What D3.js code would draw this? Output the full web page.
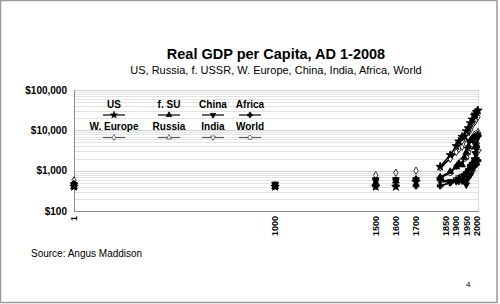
<!DOCTYPE html>
<html>
<head>
<meta charset="utf-8">
<script src="https://cdn.jsdelivr.net/npm/d3@7"></script>
<style>
  html, body { margin: 0; padding: 0; background: #fff; }
  svg { display: block; font-family: "Liberation Sans", Arial, sans-serif; }
</style>
</head>
<body>
<script>
// Maddison GDP per capita, 1990 GK$ (read off the chart / estimated)
const years = [1, 1000, 1500, 1600, 1700, 1820, 1870, 1900, 1913, 1929, 1940, 1950, 1960, 1970, 1980, 1990, 1995, 2000, 2008];
const us      = [400, 400, 400, 400, 527, 1257, 2445, 4091, 5301, 6899, 7010, 9561, 11328, 15030, 18577, 23201, 24900, 28467, 31178];
const fsu     = [400, 400, 499, 552, 610, 688, 943, 1237, 1488, 1386, 2144, 2841, 3945, 5575, 6427, 6894, 3900, 4454, 7904];
const china   = [450, 466, 600, 600, 600, 600, 530, 545, 552, 562, 562, 448, 662, 778, 1061, 1871, 2653, 3421, 6725];
const africa  = [472, 425, 414, 422, 421, 420, 500, 580, 637, 700, 800, 889, 1063, 1357, 1536, 1425, 1380, 1447, 1780];
const weurope = [576, 427, 771, 889, 997, 1202, 1960, 2885, 3457, 3900, 4500, 4578, 6896, 10195, 13154, 15966, 17000, 19176, 21672];
const russia  = [null, null, null, null, null, null, null, null, null, null, null, null, null, null, null, 7779, 5100, 5277, 9111];
const india   = [450, 450, 550, 550, 550, 533, 533, 599, 673, 728, 686, 619, 753, 868, 938, 1309, 1568, 1892, 2975];
const world   = [467, 453, 566, 596, 615, 666, 870, 1262, 1524, 1806, 1958, 2111, 2773, 3729, 4520, 5150, 5500, 6041, 7614];

const seriesNames = ['US', 'f. SU', 'China', 'Africa', 'W. Europe', 'Russia', 'India', 'World'];
const seriesValues = [us, fsu, china, africa, weurope, russia, india, world];
const yTicks = [100, 1000, 10000, 100000];
const xTicks = [1, 1000, 1500, 1600, 1700, 1850, 1900, 1950, 2000];

const title = 'Real GDP per Capita, AD 1-2008';
const subtitle = 'US, Russia, f. USSR, W. Europe, China, India, Africa, World';

// marker look for each series
const markers = [
    { type: d3.symbolStar, fill: '#000', size: 22 },
    { type: d3.symbolTriangle, fill: '#000', size: 20 },
    { type: d3.symbolTriangle, fill: '#000', size: 20, rot: 180 },
    { type: d3.symbolCross, fill: '#000', size: 20 },
    { type: d3.symbolDiamond, fill: '#fff', size: 16 },
    { type: d3.symbolTriangle, fill: '#fff', size: 18 },
    { type: d3.symbolTriangle, fill: '#fff', size: 18, rot: 180 },
    { type: d3.symbolCircle, fill: '#fff', size: 20 },
];

const W = 500, H = 304;
const plot = { left: 74, right: 478, top: 90, bottom: 211 };

const svg = d3.select('body').append('svg').attr('width', W).attr('height', H);

svg.append('rect')
    .attr('x', 0.5).attr('y', 0.5)
    .attr('width', 496.5).attr('height', 302)
    .attr('fill', '#fff').attr('stroke', '#9a9a9a').attr('stroke-width', 1.5);

const x = d3.scaleLinear().domain([1, 2008]).range([plot.left, plot.right]);
const y = d3.scaleLog().domain([100, 100000]).range([plot.bottom, plot.top]);

// gridlines (log minor + major)
const gridVals = [];
yTicks.slice(0, -1).forEach((d) => {
    for (let m = 1; m < 10; m++) gridVals.push(d * m);
});
gridVals.push(100000);
svg.append('g')
    .selectAll('line')
    .data(gridVals.filter((d) => d > 100))
    .join('line')
    .attr('x1', plot.left).attr('x2', plot.right)
    .attr('y1', (d) => Math.round(y(d)) + 0.5)
    .attr('y2', (d) => Math.round(y(d)) + 0.5)
    .attr('stroke', (d) => (yTicks.includes(d) ? '#cfcfcf' : '#e2e2e2'))
    .attr('stroke-width', 1);

// plot area right edge
svg.append('line')
    .attr('x1', plot.right + 0.5).attr('x2', plot.right + 0.5)
    .attr('y1', plot.top).attr('y2', plot.bottom)
    .attr('stroke', '#dcdcdc');

// axes lines
svg.append('line')
    .attr('x1', plot.left + 0.5).attr('x2', plot.left + 0.5)
    .attr('y1', plot.top).attr('y2', plot.bottom + 0.5)
    .attr('stroke', '#8c8c8c');
svg.append('line')
    .attr('x1', plot.left).attr('x2', plot.right + 1)
    .attr('y1', plot.bottom + 0.5).attr('y2', plot.bottom + 0.5)
    .attr('stroke', '#8c8c8c');

// y labels
svg.append('g')
    .selectAll('text')
    .data(yTicks)
    .join('text')
    .attr('x', 67)
    .attr('y', (d) => y(d))
    .attr('dy', '0.35em')
    .attr('text-anchor', 'end')
    .attr('font-size', 10)
    .attr('font-weight', 'bold')
    .text((d) => '$' + d3.format(',')(d));

// x labels (rotated)
svg.append('g')
    .selectAll('text')
    .data(xTicks)
    .join('text')
    .attr('transform', (d) => 'translate(' + (x(d) + 3.2) + ',216) rotate(-90)')
    .attr('text-anchor', 'end')
    .attr('font-size', 9)
    .attr('font-weight', 'bold')
    .text((d) => d);

// series
const seriesData = seriesNames.map((name, i) => ({
    name: name,
    marker: markers[i],
    points: years.map((yr, j) => ({ year: yr, v: seriesValues[i][j] })).filter((p) => p.v != null),
}));

const line = d3.line()
    .defined((d) => d.year >= 1820)
    .x((d) => x(d.year))
    .y((d) => y(d.v));

const series_g = svg.append('g')
    .selectAll('g')
    .data(seriesData.slice().reverse())
    .join('g');

series_g.append('path')
    .attr('d', (d) => line(d.points))
    .attr('fill', 'none')
    .attr('stroke', '#000')
    .attr('stroke-width', 1.6);

function symbolPath(m, scale) {
    return d3.symbol().type(m.type).size(m.size * (scale || 1))();
}

series_g.selectAll('path.mk')
    .data((d) => d.points.map((p) => ({ p: p, m: d.marker })))
    .join('path')
    .attr('class', 'mk')
    .attr('d', (d) => symbolPath(d.m))
    .attr('transform', (d) => 'translate(' + x(d.p.year) + ',' + y(d.p.v) + ')' + (d.m.rot ? ' rotate(' + d.m.rot + ')' : ''))
    .attr('fill', (d) => d.m.fill)
    .attr('stroke', '#000')
    .attr('stroke-width', 0.8);

// legend
const legCols = [114, 169, 213, 250];
const legRows = [{ text: 107.5, line: 115 }, { text: 130, line: 137.5 }];
const leg = svg.append('g')
    .selectAll('g')
    .data(seriesData)
    .join('g')
    .attr('transform', (d, i) => 'translate(' + legCols[i % 4] + ',0)');

leg.append('text')
    .attr('y', (d, i) => legRows[Math.floor(i / 4)].text)
    .attr('text-anchor', 'middle')
    .attr('font-size', 10)
    .attr('font-weight', 'bold')
    .text((d) => d.name);

leg.append('line')
    .attr('x1', -11).attr('x2', 11)
    .attr('y1', (d, i) => legRows[Math.floor(i / 4)].line)
    .attr('y2', (d, i) => legRows[Math.floor(i / 4)].line)
    .attr('stroke', (d, i) => (i < 4 ? '#000' : '#555'))
    .attr('stroke-width', 1.2);

leg.append('path')
    .attr('d', (d) => symbolPath(d.marker, 0.65))
    .attr('transform', (d, i) => 'translate(0,' + legRows[Math.floor(i / 4)].line + ')' + (d.marker.rot ? ' rotate(' + d.marker.rot + ')' : ''))
    .attr('fill', (d) => d.marker.fill)
    .attr('stroke', (d, i) => (i < 4 ? '#000' : '#555'))
    .attr('stroke-width', 0.8);

// titles
svg.append('text')
    .attr('x', 276).attr('y', 59)
    .attr('text-anchor', 'middle')
    .attr('font-size', 14.5)
    .attr('font-weight', 'bold')
    .text(title);
svg.append('text')
    .attr('x', 276).attr('y', 73.5)
    .attr('text-anchor', 'middle')
    .attr('font-size', 11)
    .text(subtitle);

svg.append('text')
    .attr('x', 31).attr('y', 257)
    .attr('font-size', 10)
    .attr('fill', '#000')
    .text('Source: Angus Maddison');

svg.append('text')
    .attr('x', 466).attr('y', 287)
    .attr('font-size', 8)
    .attr('fill', '#000')
    .text('4');
</script>
</body>
</html>
